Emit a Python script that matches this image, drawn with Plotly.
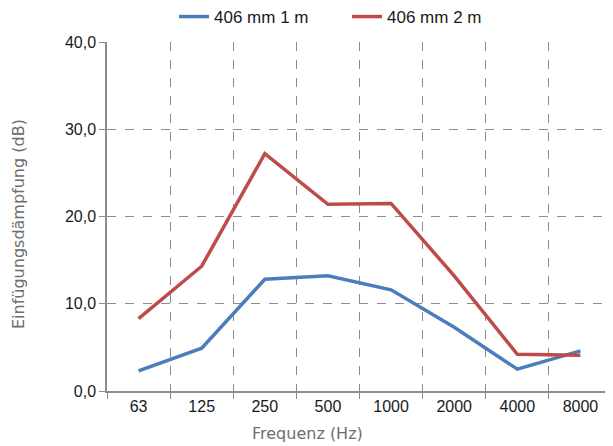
import plotly.graph_objects as go

freqs = ["63", "125", "250", "500", "1000", "2000", "4000", "8000"]
series_1m = [2.3, 4.9, 12.8, 13.2, 11.6, 7.3, 2.5, 4.6]
series_2m = [8.3, 14.3, 27.2, 21.4, 21.5, 13.2, 4.2, 4.1]
names = ["406 mm 1 m", "406 mm 2 m"]
colors = ["#4A7EBB", "#BE4B48"]
y_ticks = [0, 10, 20, 30, 40]

# the page body has an 8px default margin; compensate in the layout margins
OFF = 8

fig = go.Figure()
for vals, name, col in zip([series_1m, series_2m], names, colors):
    fig.add_trace(go.Scatter(x=freqs, y=vals, mode="lines", name=name,
                             line=dict(color=col, width=3.5)))

grid = "#8C8C8C"
tick_font = dict(family="Liberation Sans, Arial, sans-serif", size=16, color="#1A1A1A")
fig.update_layout(
    width=613, height=446,
    margin=dict(l=107 - OFF, r=1 + OFF, t=42 - OFF, b=55 + OFF, autoexpand=False),
    paper_bgcolor="white", plot_bgcolor="white",
    separators=",.",
    font=dict(family="Liberation Sans, Arial, sans-serif", size=16, color="#1A1A1A"),
    showlegend=True,
    legend=dict(orientation="h", xref="container", yref="container",
                x=(174 - OFF) / 613, xanchor="left", y=1 - (17 - OFF) / 446,
                yanchor="middle", entrywidth=128, entrywidthmode="pixels",
                font=dict(size=17, color="#1A1A1A"), itemwidth=30, tracegroupgap=0),
    xaxis=dict(type="category", range=[-0.5, 7.5], tickson="boundaries", showgrid=True,
               gridcolor=grid, griddash="dash", gridwidth=1, ticks="outside", ticklen=6,
               tickcolor=grid, showline=True, linecolor=grid, linewidth=1.5,
               tickfont=tick_font, automargin=False),
    yaxis=dict(range=[0, 40], tickvals=y_ticks, tickformat=".1f", showgrid=True,
               gridcolor=grid, griddash="dash", gridwidth=1, ticks="outside", ticklen=6,
               tickcolor=grid, showline=True, linecolor=grid, linewidth=1.5,
               zeroline=False, tickfont=tick_font, automargin=False),
    annotations=[
        dict(text="Frequenz (Hz)", xref="paper", yref="paper", x=(307 - 107) / 505,
             y=-(433 - 391) / 349, xanchor="center", yanchor="middle", showarrow=False,
             font=dict(family="DejaVu Sans", size=16, color="#6E6E6E")),
        dict(text="Einfügungsdämpfung (dB)", xref="paper", yref="paper",
             x=-(107 - 18) / 505, y=(391 - 224) / 349, xanchor="center", yanchor="middle",
             textangle=-90, showarrow=False,
             font=dict(family="DejaVu Sans", size=16, color="#6E6E6E")),
    ],
)

fig.write_html("out.html")
